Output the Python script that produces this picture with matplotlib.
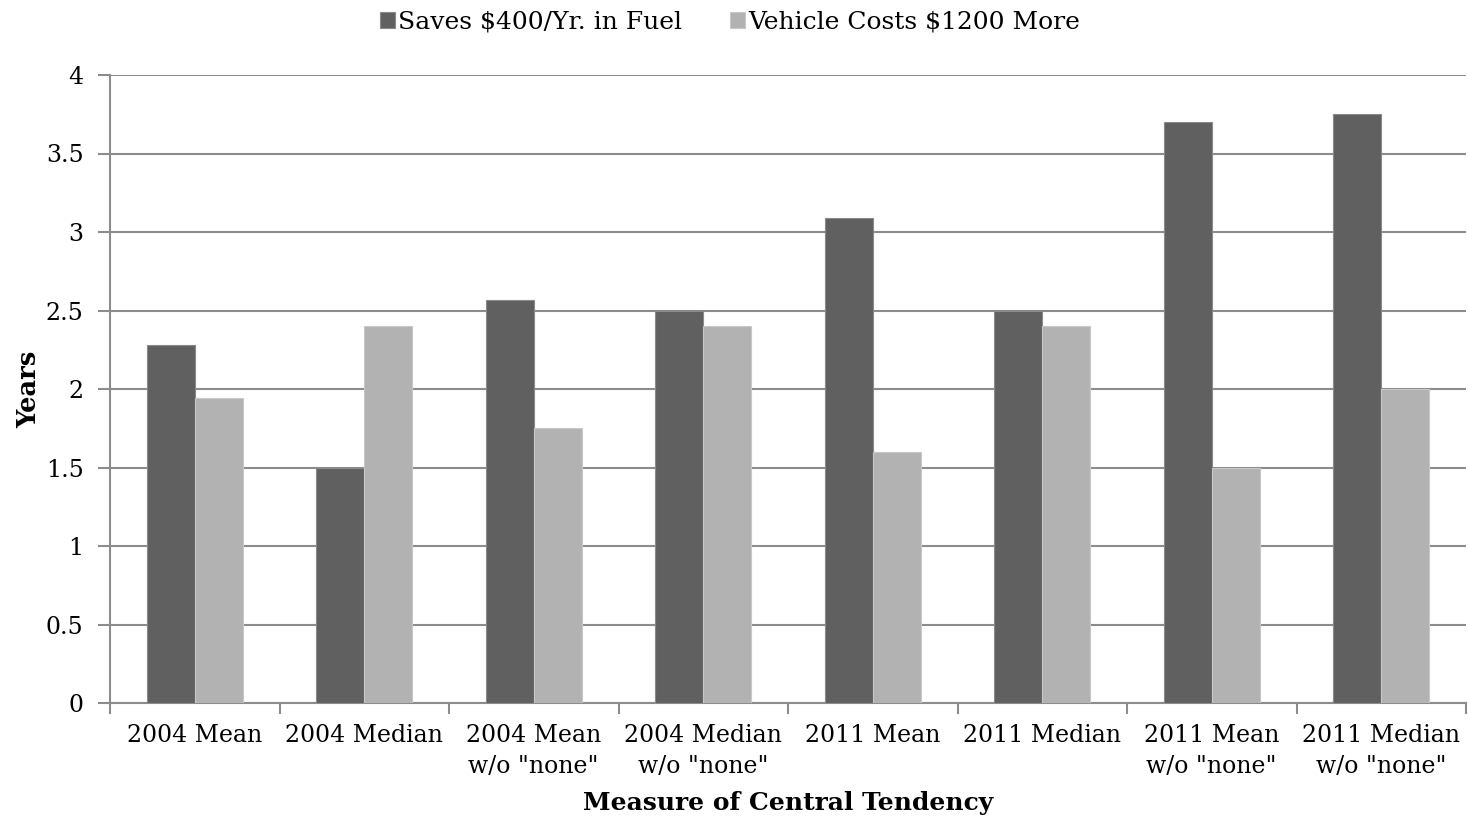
import numpy as np
import matplotlib.pyplot as plt
from matplotlib.ticker import MultipleLocator, FixedLocator

plt.rcParams['font.family'] = ['DejaVu Serif']

# payback period answers by measure
categories = ['2004 Mean', '2004 Median', '2004 Mean\nw/o "none"', '2004 Median\nw/o "none"',
              '2011 Mean', '2011 Median', '2011 Mean\nw/o "none"', '2011 Median\nw/o "none"']
saves_fuel = [2.28, 1.5, 2.57, 2.5, 3.09, 2.5, 3.7, 3.75]
costs_more = [1.94, 2.4, 1.75, 2.4, 1.6, 2.4, 1.5, 2.0]

grid_col = '#8c8c8c'
dark = '#606060'
light = '#b2b2b2'

fig = plt.figure(figsize=(14.68, 8.16), dpi=100)
ax = fig.add_axes([110 / 1468, 1 - 703 / 816, 1356 / 1468, 628 / 816])

x = np.arange(len(categories))
w = 0.282
ax.bar(x - w / 2, saves_fuel, w, color=dark, edgecolor='#8a8a8a', linewidth=0.8,
       label='Saves $400/Yr. in Fuel', zorder=3)
ax.bar(x + w / 2, costs_more, w, color=light, edgecolor='#c8c8c8', linewidth=0.8,
       label='Vehicle Costs $1200 More', zorder=3)

ax.set_xlim(-0.5, len(categories) - 0.5)
ax.set_ylim(0, 4)
ax.yaxis.set_major_locator(MultipleLocator(0.5))
ax.set_yticklabels([f'{v:g}' for v in ax.get_yticks()])
ax.yaxis.grid(True, color=grid_col, linewidth=1.5, zorder=0)

# category labels sit between the boundary ticks
ax.xaxis.set_major_locator(FixedLocator(np.arange(-0.5, len(categories), 1.0)))
ax.xaxis.set_minor_locator(FixedLocator(x))
ax.set_xticklabels([])
ax.set_xticklabels(categories, minor=True, fontsize=17, linespacing=1.45)
ax.tick_params(axis='x', which='major', length=8, width=1.5, color=grid_col, direction='out')
ax.tick_params(axis='x', which='minor', length=0, pad=15)
ax.tick_params(axis='y', length=9, width=1.5, color=grid_col, direction='out', labelsize=17, pad=10)

for s in ['top', 'right']:
    ax.spines[s].set_visible(False)
for s in ['left', 'bottom']:
    ax.spines[s].set_color(grid_col)
    ax.spines[s].set_linewidth(1.5)

ax.set_ylabel('Years', fontsize=18.5, fontweight='bold')
ax.yaxis.set_label_coords(-0.051, 0.5)
ax.set_xlabel('Measure of Central Tendency', fontsize=18, fontweight='bold')
ax.xaxis.set_label_coords(0.5, -0.14)

fig.legend(loc='center', bbox_to_anchor=(730 / 1468, 1 - 22 / 816), ncol=2, frameon=False,
           fontsize=18, handlelength=0.6, handleheight=0.6, handletextpad=0.15,
           columnspacing=1.9)

fig.savefig('out.png', dpi=100, facecolor='white')
